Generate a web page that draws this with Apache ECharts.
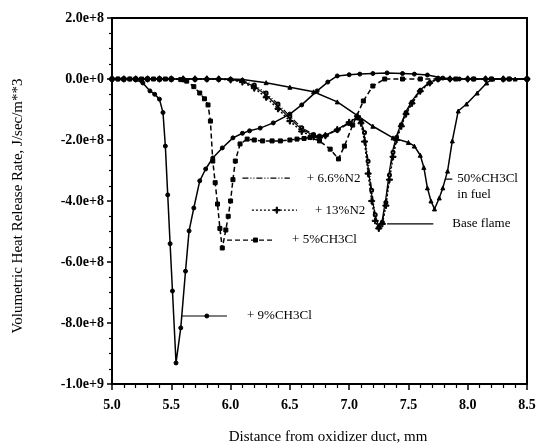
<!DOCTYPE html>
<html>
<head>
<meta charset="utf-8">
<script src="https://cdn.jsdelivr.net/npm/echarts@6/dist/echarts.min.js"></script>
<style>
html,body{margin:0;padding:0;background:#fff;}
#chart{width:537px;height:448px;}
</style>
</head>
<body>
<div id="chart"></div>
<script>
// Values of heat release rate in units of 1e8 J/sec/m**3
const nine_x = [5.0, 5.05, 5.1, 5.15, 5.2, 5.26, 5.32, 5.36, 5.40, 5.43, 5.45, 5.47, 5.49, 5.51, 5.54, 5.58, 5.62, 5.65, 5.69, 5.74, 5.79, 5.85, 5.93, 6.02, 6.1, 6.16, 6.25, 6.36, 6.5, 6.6, 6.73, 6.82, 6.9, 7.0, 7.09, 7.2, 7.32, 7.45, 7.55, 7.66, 7.79, 7.93, 8.05, 8.2, 8.35, 8.5];
const nine_y = [0, 0, 0, 0, -0.02, -0.13, -0.39, -0.5, -0.66, -1.1, -2.2, -3.8, -5.4, -6.95, -9.31, -8.16, -6.30, -4.98, -4.23, -3.34, -2.95, -2.59, -2.26, -1.93, -1.78, -1.70, -1.61, -1.44, -1.15, -0.85, -0.39, -0.1, 0.10, 0.14, 0.16, 0.18, 0.20, 0.18, 0.16, 0.13, 0.03, 0, 0, 0, 0, 0];

const five_x = [5.0, 5.05, 5.1, 5.15, 5.2, 5.25, 5.3, 5.35, 5.4, 5.45, 5.5, 5.58, 5.63, 5.69, 5.74, 5.78, 5.81, 5.83, 5.85, 5.87, 5.89, 5.91, 5.93, 5.96, 5.98, 6.0, 6.02, 6.04, 6.08, 6.14, 6.2, 6.27, 6.35, 6.42, 6.5, 6.56, 6.62, 6.67, 6.75, 6.84, 6.91, 6.96, 7.03, 7.12, 7.2, 7.3, 7.45, 7.6, 7.75, 7.9, 8.05, 8.2, 8.35, 8.5];
const five_y = [0, 0, 0, 0, 0, 0, 0, 0, 0, 0, 0, -0.02, -0.07, -0.25, -0.46, -0.65, -0.85, -1.38, -2.69, -3.4, -4.10, -4.9, -5.54, -4.95, -4.5, -4.0, -3.3, -2.69, -2.13, -1.97, -2.0, -2.03, -2.03, -2.03, -2.0, -1.97, -1.95, -1.92, -2.03, -2.30, -2.62, -2.20, -1.51, -0.72, -0.23, 0, 0, 0, 0, 0, 0, 0, 0, 0];

const bundle_x = [5.0, 5.1, 5.2, 5.3, 5.4, 5.5, 5.6, 5.7, 5.8, 5.9, 6.0, 6.1, 6.2, 6.3, 6.4, 6.5, 6.6, 6.7, 6.75, 6.8, 6.9, 7.0, 7.07, 7.1, 7.13, 7.16, 7.19, 7.22, 7.25, 7.28, 7.31, 7.34, 7.37, 7.40, 7.44, 7.48, 7.53, 7.60, 7.68, 7.75, 7.85, 8.0, 8.15, 8.3, 8.5];
const base_y = [0, 0, 0, 0, 0, 0, 0, 0, 0, 0, -0.02, -0.07, -0.25, -0.52, -0.9, -1.3, -1.65, -1.85, -1.88, -1.84, -1.65, -1.43, -1.25, -1.4, -1.9, -2.9, -3.8, -4.5, -4.82, -4.6, -3.9, -3.0, -2.3, -1.85, -1.45, -1.05, -0.72, -0.35, -0.1, 0, 0, 0, 0, 0, 0];
const n66_y = [0, 0, 0, 0, 0, 0, 0, 0, 0, 0, -0.01, -0.05, -0.2, -0.46, -0.82, -1.22, -1.6, -1.82, -1.87, -1.85, -1.68, -1.46, -1.28, -1.38, -1.75, -2.7, -3.65, -4.45, -4.86, -4.7, -4.05, -3.15, -2.4, -1.92, -1.5, -1.1, -0.76, -0.38, -0.12, 0, 0, 0, 0, 0, 0];
const n13_y = [0, 0, 0, 0, 0, 0, 0, 0, 0, 0, -0.03, -0.1, -0.3, -0.6, -0.98, -1.38, -1.72, -1.9, -1.92, -1.86, -1.66, -1.42, -1.22, -1.45, -2.05, -3.1, -4.0, -4.65, -4.9, -4.75, -4.15, -3.3, -2.55, -2.0, -1.55, -1.15, -0.8, -0.4, -0.13, 0, 0, 0, 0, 0, 0];

const fifty_x = [5.0, 5.1, 5.2, 5.3, 5.4, 5.5, 5.6, 5.7, 5.8, 5.9, 6.0, 6.1, 6.3, 6.5, 6.7, 6.9, 7.07, 7.2, 7.37, 7.5, 7.55, 7.6, 7.63, 7.66, 7.69, 7.72, 7.76, 7.79, 7.83, 7.87, 7.92, 7.99, 8.08, 8.16, 8.21, 8.3, 8.4, 8.5];
const fifty_y = [0, 0, 0, 0, 0, 0, 0, 0, 0, 0, 0, -0.02, -0.12, -0.27, -0.42, -0.75, -1.2, -1.55, -1.93, -2.08, -2.2, -2.5, -2.9, -3.57, -4.0, -4.26, -3.9, -3.57, -3.02, -2.03, -1.05, -0.82, -0.46, -0.13, 0, 0, 0, 0];

// Annotation labels (leader lines)
const annot_labels = ['+ 6.6%N2', '+ 13%N2', '+ 5%CH3Cl', '+ 9%CH3Cl', 'Base flame', '50%CH3Cl\nin fuel'];
const annot_x0 = [6.10, 6.18, 5.97, 5.59, 7.32, 7.81];
const annot_x1 = [6.50, 6.56, 6.35, 5.97, 7.71, 7.87];
const annot_xm = [null, 6.39, 6.21, 5.80, null, null];
const annot_y = [-3.25, -4.30, -5.28, -7.77, -4.75, -3.28];

const x_ticks = [5.0, 5.5, 6.0, 6.5, 7.0, 7.5, 8.0, 8.5];
const y_ticks = [2, 0, -2, -4, -6, -8, -10];

const FONT = "'Liberation Serif', 'Times New Roman', serif";
const zip = (xs, ys) => xs.map((x, i) => [x, ys[i]]);
const PLUS = 'path://M4,0H6V4H10V6H6V10H4V6H0V4H4Z';

const styles = [
  {type: [6, 2, 1, 2, 1, 2], sym: 'emptyCircle', size: 3, w: 1.2, dist: 17},
  {type: [2, 2], sym: PLUS, size: 6, w: 1.5, dist: 18},
  {type: [5, 3], sym: 'rect', size: 4, w: 1.5, dist: 20},
  {type: 'solid', sym: 'circle', size: 4, w: 1.5, dist: 20},
  {type: 'solid', sym: 'none', size: 0, w: 1.2, dist: 19},
  {type: 'solid', sym: 'none', size: 0, w: 1.5, dist: 5}
];

function curve(name, xs, ys, st) {
  return {
    name: name, type: 'line', data: zip(xs, ys),
    symbol: st.sym, symbolSize: st.size, showSymbol: st.sym !== 'none',
    lineStyle: {color: '#000', width: st.w, type: st.type},
    itemStyle: {color: '#000', borderColor: '#000'},
    smooth: false, z: 3
  };
}

const series = [
  curve('+ 6.6%N2', bundle_x, n66_y, styles[0]),
  curve('+ 13%N2', bundle_x, n13_y, styles[1]),
  curve('+ 5%CH3Cl', five_x, five_y, styles[2]),
  curve('+ 9%CH3Cl', nine_x, nine_y, styles[3]),
  curve('Base flame', bundle_x, base_y, styles[4]),
  Object.assign(curve('50%CH3Cl in fuel', fifty_x, fifty_y, styles[5]), {symbol: 'triangle', symbolSize: 4, showSymbol: true})
];

annot_labels.forEach((lab, i) => {
  const st = styles[i];
  const d = [{value: [annot_x0[i], annot_y[i]], symbol: 'none'}];
  if (annot_xm[i] !== null) d.push({value: [annot_xm[i], annot_y[i]], symbol: st.sym, symbolSize: st.size});
  d.push({value: [annot_x1[i], annot_y[i]], symbol: 'none'});
  const multi = lab.indexOf('\n') >= 0;
  series.push({
    type: 'line', data: d, showSymbol: true, symbol: 'none',
    lineStyle: {color: '#000', width: 1.2, type: st.type},
    itemStyle: {color: '#000', borderColor: '#000'},
    endLabel: {
      show: true, formatter: () => lab, distance: st.dist,
      color: '#000', fontFamily: FONT, fontSize: 13, lineHeight: 16,
      align: 'left', verticalAlign: multi ? 'top' : 'middle',
      offset: multi ? [0, -8] : [0, 0]
    },
    silent: true, z: 4
  });
});

const chart = echarts.init(document.getElementById('chart'), null, {renderer: 'canvas'});
chart.setOption({
  animation: false,
  backgroundColor: '#fff',
  grid: {left: 112, right: 10, top: 18, bottom: 64, containLabel: false, outerBoundsMode: 'none',
         show: true, borderColor: '#000', borderWidth: 2, backgroundColor: 'transparent'},
  xAxis: {
    type: 'value', min: x_ticks[0], max: x_ticks[x_ticks.length - 1], interval: 0.5,
    name: 'Distance from oxidizer duct, mm', nameLocation: 'middle', nameGap: 46,
    nameTextStyle: {fontFamily: FONT, fontSize: 15, color: '#000', padding: [0, 0, 0, 17]},
    axisLine: {show: true, onZero: false, lineStyle: {color: '#000', width: 2}},
    axisTick: {show: true, length: 6, lineStyle: {color: '#000', width: 1.5}},
    minorTick: {show: true, splitNumber: 5, length: 4, lineStyle: {color: '#000', width: 1.2}},
    splitLine: {show: false},
    axisLabel: {formatter: v => v.toFixed(1), margin: 14, color: '#000', fontFamily: FONT, fontSize: 14, fontWeight: 'bold'}
  },
  yAxis: {
    type: 'value', min: y_ticks[y_ticks.length - 1], max: y_ticks[0], interval: 2,
    name: 'Volumetric Heat Release Rate, J/sec/m**3', nameLocation: 'middle', nameGap: 86,
    nameTextStyle: {fontFamily: FONT, fontSize: 15, color: '#000', padding: [0, 10, 0, 0]},
    axisLine: {show: true, onZero: false, lineStyle: {color: '#000', width: 2}},
    axisTick: {show: true, length: 5, lineStyle: {color: '#000', width: 1.5}},
    minorTick: {show: true, splitNumber: 4, length: 3, lineStyle: {color: '#000', width: 1.2}},
    splitLine: {show: false},
    axisLabel: {formatter: v => (v * 1e8).toExponential(1), margin: 8, color: '#000', fontFamily: FONT, fontSize: 14, fontWeight: 'bold'}
  },
  series: series
});
</script>
</body>
</html>
